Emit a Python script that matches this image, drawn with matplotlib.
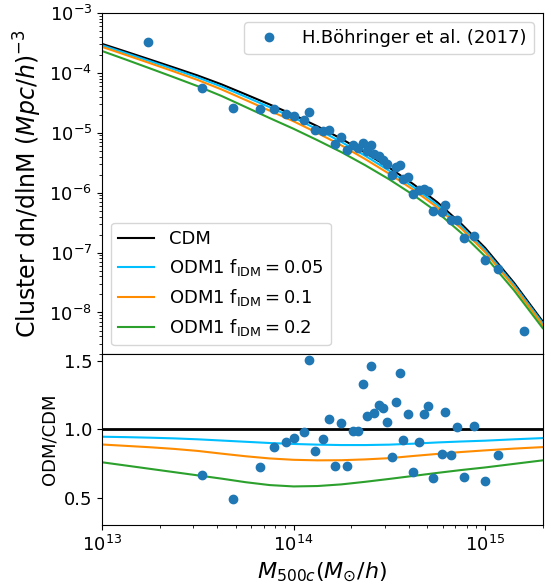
import numpy as np
import matplotlib
matplotlib.use("Agg")
import matplotlib.pyplot as plt

# Cluster mass samples [M_sun/h] and measured abundance dn/dlnM [(Mpc/h)^-3]
obs_mass = [1.74e13, 3.32e13, 4.84e13, 6.67e13, 7.89e13, 9.12e13, 1.004e14,
            1.136e14, 1.212e14, 1.302e14, 1.427e14, 1.528e14, 1.656e14, 1.780e14,
            1.897e14, 2.046e14, 2.183e14, 2.318e14, 2.432e14, 2.540e14, 2.646e14,
            2.810e14, 2.948e14, 3.067e14, 3.257e14, 3.418e14, 3.598e14, 3.748e14,
            3.981e14, 4.227e14, 4.521e14, 4.800e14, 5.061e14, 5.374e14, 5.937e14,
            6.178e14, 6.615e14, 7.171e14, 7.798e14, 8.751e14, 9.99e14, 1.173e15,
            1.596e15]
obs_dndlnm = [3.29e-4, 5.69e-5, 2.61e-5, 2.54e-5, 2.45e-5, 2.07e-5, 1.87e-5,
              1.63e-5, 2.26e-5, 1.12e-5, 1.08e-5, 1.12e-5, 6.56e-6, 8.48e-6,
              5.15e-6, 6.31e-6, 5.56e-6, 6.73e-6, 5.01e-6, 6.14e-6, 4.42e-6,
              4.03e-6, 3.55e-6, 3.04e-6, 2.00e-6, 2.68e-6, 2.85e-6, 1.69e-6,
              1.83e-6, 9.62e-7, 1.09e-6, 1.17e-6, 1.05e-6, 5.01e-7, 4.77e-7,
              6.14e-7, 3.55e-7, 3.55e-7, 1.76e-7, 1.92e-7, 7.44e-8, 5.41e-8,
              4.83e-9]
# Measured abundance relative to CDM (first and last fall outside the panel)
obs_ratio = [1.9, 0.666, 0.494, 0.725, 0.874, 0.910, 0.939, 0.98, 1.51, 0.84,
             0.932, 1.075, 0.732, 1.049, 0.73, 0.99, 0.99, 1.333, 1.097, 1.462,
             1.122, 1.178, 1.156, 1.058, 0.796, 1.20, 1.41, 0.922, 1.117, 0.69,
             0.91, 1.117, 1.173, 0.647, 0.818, 1.127, 0.81, 1.015, 0.65, 1.022,
             0.62, 0.812, 0.25]

# Model mass grid and halo mass functions
model_mass = [1.0e13, 1.334e13, 1.778e13, 2.371e13, 3.162e13, 4.217e13, 5.623e13,
              7.499e13, 1.0e14, 1.334e14, 1.778e14, 2.371e14, 3.162e14, 4.217e14,
              5.623e14, 7.499e14, 1.0e15, 1.413e15, 2.0e15]
cdm = [3.05e-4, 2.26e-4, 1.67e-4, 1.23e-4, 9.02e-5, 6.41e-5, 4.38e-5, 2.97e-5,
       2.0e-5, 1.28e-5, 7.94e-6, 4.64e-6, 2.61e-6, 1.39e-6, 6.95e-7, 3.04e-7,
       1.20e-7, 3.16e-8, 7.08e-9]
ratio_f005 = [0.947, 0.944, 0.940, 0.935, 0.928, 0.919, 0.910, 0.901, 0.894,
              0.889, 0.886, 0.886, 0.889, 0.896, 0.905, 0.912, 0.918, 0.928, 0.937]
ratio_f01 = [0.890, 0.880, 0.870, 0.858, 0.843, 0.823, 0.804, 0.788, 0.778,
             0.774, 0.775, 0.781, 0.790, 0.806, 0.821, 0.835, 0.847, 0.860, 0.871]
ratio_f02 = [0.760, 0.736, 0.712, 0.688, 0.664, 0.640, 0.614, 0.593, 0.583,
             0.586, 0.598, 0.617, 0.638, 0.660, 0.682, 0.703, 0.722, 0.748, 0.774]

model_labels = ["CDM", r"ODM1 $\rm f_{IDM}=0.05$", r"ODM1 $\rm f_{IDM}=0.1$",
                r"ODM1 $\rm f_{IDM}=0.2$"]
model_colors = ["black", "deepskyblue", "darkorange", "tab:green"]

plt.rcParams["font.size"] = 13

cdm_arr = np.array(cdm)
ratios = [np.ones_like(cdm_arr), np.array(ratio_f005), np.array(ratio_f01),
          np.array(ratio_f02)]

fig = plt.figure(figsize=(5.51, 5.88), dpi=100)
gs = fig.add_gridspec(2, 1, height_ratios=[2, 1], hspace=0)
ax = fig.add_subplot(gs[0])
axr = fig.add_subplot(gs[1], sharex=ax)
fig.subplots_adjust(left=0.185, right=0.985, top=0.978, bottom=0.107)

line_handles = []
for r, lab, col in zip(ratios, model_labels, model_colors):
    h, = ax.plot(model_mass, cdm_arr * r, color=col, lw=1.5, label=lab)
    line_handles.append(h)
pts, = ax.plot(obs_mass, obs_dndlnm, "o", color="tab:blue", ms=6,
               label="H.Böhringer et al. (2017)")

ax.set_xscale("log")
ax.set_yscale("log")
ax.set_xlim(1e13, 2e15)
ax.set_ylim(2e-9, 1e-3)
ax.set_ylabel(r"Cluster dn/dlnM $(Mpc/h)^{-3}$", fontsize=17)
ax.tick_params(labelbottom=False)

leg1 = ax.legend(handles=[pts], loc="upper right")
ax.add_artist(leg1)
ax.legend(handles=line_handles, loc="lower left")

for r, col in zip(ratios, model_colors):
    axr.plot(model_mass, r, color=col, lw=2 if col == "black" else 1.5)
axr.plot(obs_mass, obs_ratio, "o", color="tab:blue", ms=6)
axr.set_ylim(0.3, 1.55)
axr.set_yticks([0.5, 1.0, 1.5])
axr.set_ylabel("ODM/CDM", fontsize=13)
axr.set_xlabel(r"$M_{500c}(M_{\odot}/h)$", fontsize=16)

fig.savefig("out.png", dpi=100)
